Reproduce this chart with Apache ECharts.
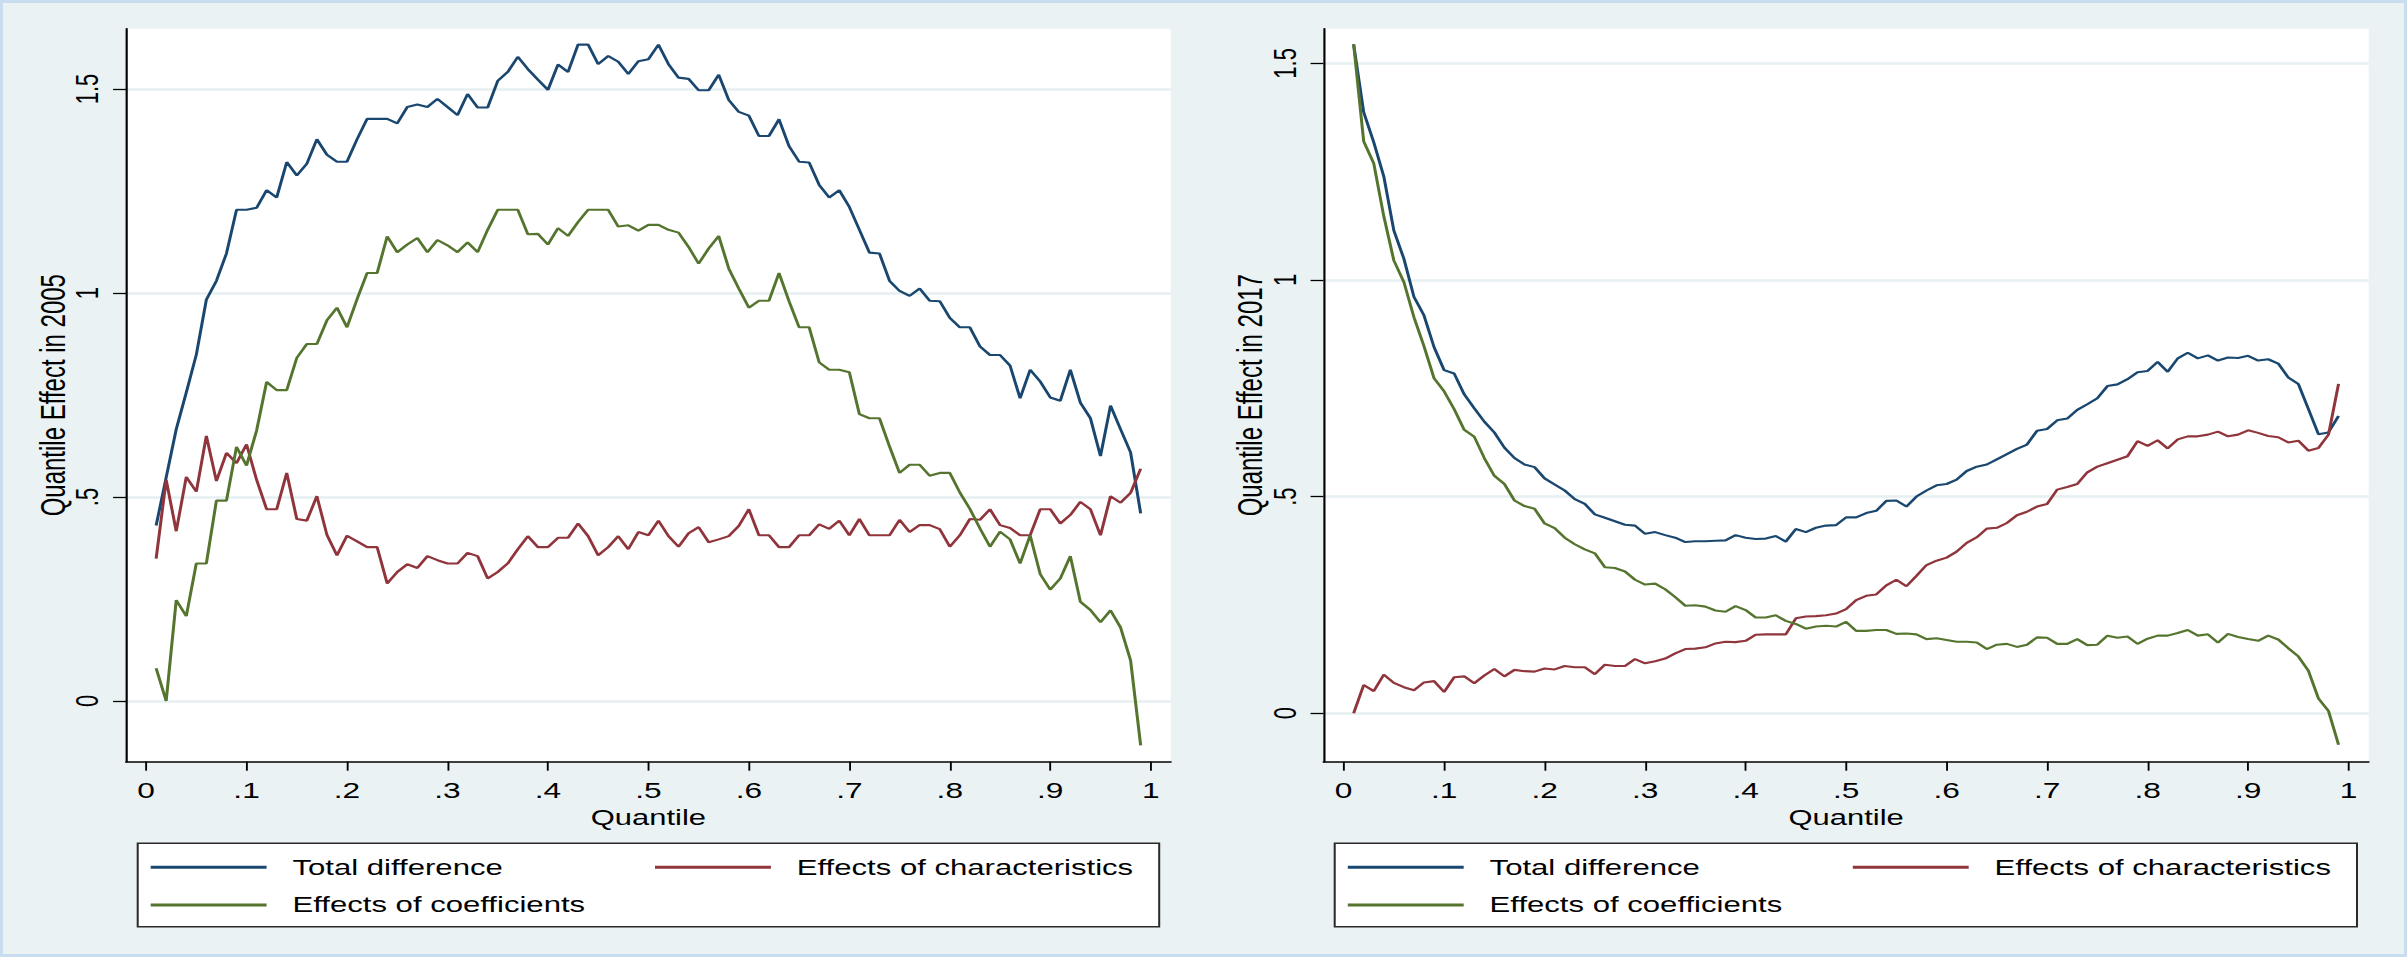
<!DOCTYPE html>
<html>
<head>
<meta charset="utf-8">
<script src="https://cdn.jsdelivr.net/npm/echarts@6.0.0/dist/echarts.min.js"></script>
<style>
html,body{margin:0;padding:0;width:2407px;height:957px;overflow:hidden;background:#EAF2F3;}
#chart{position:absolute;left:0;top:0;width:1672px;height:957px;transform:scaleX(1.4395933);transform-origin:0 0;}
#frame{position:absolute;left:0;top:0;width:2407px;height:957px;box-sizing:border-box;border:3px solid #C9DDF0;pointer-events:none;}
</style>
</head>
<body>
<div id="chart"></div>
<div id="frame"></div>
<script>
// ---------- data ----------
const quantiles = [0.01,0.02,0.03,0.04,0.05,0.06,0.07,0.08,0.09,0.10,
  0.11,0.12,0.13,0.14,0.15,0.16,0.17,0.18,0.19,0.20,
  0.21,0.22,0.23,0.24,0.25,0.26,0.27,0.28,0.29,0.30,
  0.31,0.32,0.33,0.34,0.35,0.36,0.37,0.38,0.39,0.40,
  0.41,0.42,0.43,0.44,0.45,0.46,0.47,0.48,0.49,0.50,
  0.51,0.52,0.53,0.54,0.55,0.56,0.57,0.58,0.59,0.60,
  0.61,0.62,0.63,0.64,0.65,0.66,0.67,0.68,0.69,0.70,
  0.71,0.72,0.73,0.74,0.75,0.76,0.77,0.78,0.79,0.80,
  0.81,0.82,0.83,0.84,0.85,0.86,0.87,0.88,0.89,0.90,
  0.91,0.92,0.93,0.94,0.95,0.96,0.97,0.98,0.99];

const total2005 = [0.430,0.548,0.666,0.756,0.849,0.984,1.030,1.097,1.204,1.204,
  1.209,1.252,1.234,1.321,1.288,1.317,1.377,1.339,1.322,1.322,
  1.377,1.427,1.427,1.427,1.416,1.456,1.462,1.456,1.476,1.456,
  1.436,1.488,1.455,1.455,1.520,1.542,1.579,1.549,1.523,1.498,
  1.560,1.542,1.609,1.609,1.561,1.581,1.567,1.537,1.568,1.573,
  1.609,1.561,1.528,1.525,1.497,1.497,1.535,1.473,1.444,1.435,
  1.385,1.385,1.426,1.360,1.322,1.320,1.265,1.234,1.252,1.211,
  1.155,1.099,1.097,1.030,1.005,0.993,1.011,0.981,0.980,0.939,
  0.916,0.916,0.869,0.848,0.848,0.822,0.742,0.812,0.783,0.744,
  0.736,0.812,0.731,0.693,0.600,0.724,0.666,0.609,0.460];

const charac2005 = [0.349,0.542,0.416,0.549,0.513,0.650,0.539,0.608,0.583,0.629,
  0.542,0.470,0.470,0.559,0.446,0.442,0.502,0.407,0.357,0.405,
  0.391,0.377,0.377,0.288,0.316,0.335,0.326,0.355,0.345,0.337,
  0.337,0.363,0.355,0.300,0.316,0.337,0.372,0.404,0.377,0.377,
  0.400,0.400,0.435,0.404,0.357,0.377,0.404,0.372,0.414,0.406,
  0.442,0.404,0.378,0.411,0.426,0.389,0.396,0.404,0.429,0.470,
  0.406,0.406,0.377,0.377,0.406,0.406,0.433,0.422,0.442,0.406,
  0.446,0.406,0.406,0.406,0.444,0.414,0.431,0.431,0.421,0.378,
  0.406,0.446,0.444,0.470,0.431,0.424,0.406,0.406,0.470,0.470,
  0.435,0.456,0.488,0.470,0.406,0.502,0.486,0.510,0.569];

const coef2005 = [0.080,0.000,0.247,0.208,0.337,0.337,0.491,0.491,0.623,0.577,
  0.663,0.782,0.762,0.762,0.841,0.875,0.875,0.933,0.964,0.916,
  0.985,1.049,1.049,1.139,1.100,1.119,1.135,1.100,1.130,1.117,
  1.100,1.124,1.100,1.155,1.204,1.204,1.204,1.144,1.145,1.119,
  1.159,1.140,1.174,1.204,1.204,1.204,1.163,1.166,1.153,1.167,
  1.167,1.155,1.148,1.113,1.072,1.109,1.140,1.060,1.011,0.964,
  0.981,0.981,1.049,0.980,0.916,0.916,0.830,0.812,0.812,0.806,
  0.703,0.693,0.693,0.624,0.559,0.579,0.579,0.552,0.559,0.559,
  0.511,0.471,0.423,0.378,0.415,0.396,0.337,0.406,0.311,0.273,
  0.300,0.355,0.243,0.223,0.193,0.222,0.180,0.099,-0.109];

const total2017 = [1.544,1.387,1.318,1.239,1.114,1.049,0.961,0.918,0.845,0.792,
  0.784,0.736,0.704,0.673,0.648,0.613,0.589,0.574,0.568,0.542,
  0.528,0.514,0.494,0.483,0.459,0.451,0.443,0.435,0.433,0.414,
  0.418,0.411,0.405,0.395,0.397,0.397,0.398,0.399,0.411,0.405,
  0.402,0.403,0.409,0.396,0.425,0.418,0.428,0.433,0.434,0.452,
  0.452,0.462,0.467,0.490,0.491,0.477,0.500,0.514,0.526,0.529,
  0.539,0.559,0.569,0.574,0.586,0.598,0.610,0.620,0.652,0.656,
  0.676,0.680,0.700,0.713,0.727,0.755,0.759,0.771,0.787,0.790,
  0.811,0.788,0.819,0.832,0.819,0.826,0.814,0.821,0.820,0.825,
  0.814,0.817,0.807,0.775,0.760,0.702,0.644,0.648,0.686];

const charac2017 = [0.000,0.065,0.051,0.089,0.070,0.060,0.053,0.071,0.074,0.049,
  0.083,0.085,0.069,0.087,0.102,0.085,0.100,0.097,0.096,0.103,
  0.101,0.109,0.106,0.106,0.090,0.112,0.109,0.109,0.125,0.115,
  0.120,0.126,0.138,0.148,0.149,0.152,0.161,0.165,0.164,0.167,
  0.181,0.182,0.182,0.182,0.219,0.223,0.224,0.226,0.230,0.240,
  0.261,0.271,0.274,0.295,0.308,0.293,0.317,0.342,0.352,0.359,
  0.373,0.393,0.406,0.426,0.428,0.439,0.457,0.465,0.477,0.483,
  0.516,0.522,0.529,0.556,0.569,0.577,0.585,0.593,0.628,0.617,
  0.630,0.611,0.632,0.639,0.639,0.643,0.650,0.639,0.643,0.653,
  0.647,0.640,0.637,0.625,0.629,0.606,0.612,0.643,0.760];

const coef2017 = [1.544,1.320,1.269,1.147,1.045,0.995,0.914,0.847,0.773,0.743,
  0.702,0.654,0.638,0.589,0.548,0.529,0.491,0.478,0.472,0.438,
  0.427,0.405,0.390,0.378,0.369,0.337,0.335,0.327,0.308,0.297,
  0.299,0.286,0.268,0.248,0.249,0.246,0.237,0.234,0.247,0.238,
  0.221,0.221,0.226,0.213,0.206,0.195,0.200,0.202,0.200,0.211,
  0.190,0.190,0.192,0.192,0.183,0.184,0.182,0.171,0.173,0.169,
  0.165,0.165,0.163,0.148,0.158,0.160,0.153,0.158,0.175,0.174,
  0.160,0.160,0.171,0.157,0.158,0.179,0.174,0.177,0.160,0.172,
  0.179,0.179,0.185,0.192,0.179,0.182,0.163,0.183,0.176,0.171,
  0.167,0.179,0.170,0.150,0.131,0.098,0.034,0.005,-0.073];

const xTickValues = [0,0.1,0.2,0.3,0.4,0.5,0.6,0.7,0.8,0.9,1];
const yTickValues = [0,0.5,1,1.5];
const seriesNames = ['Total difference','Effects of characteristics','Effects of coefficients'];
const yTitles = ['Quantile Effect in 2005','Quantile Effect in 2017'];
const xTitle = 'Quantile';

// ---------- layout / style ----------
const S = 2407 / 1672;            // horizontal stretch applied by CSS
const ux = v => v / S;             // reference px -> layout px
const FONT = "'Liberation Sans', Arial, Helvetica, sans-serif";
const colors = ['#1A476F', '#90353B', '#55752F'];
const fmt = v => {
  const s = String(Number(v.toFixed(2)));
  return s.replace(/^0\./, '.').replace(/^-0\./, '-.');
};

const panels = [
  {gridLeft: ux(126),    gridW: ux(1044.8), yMin: -0.149, yMax: 1.648, data: [total2005, charac2005, coef2005],
   legendBox: [ux(137.7), ux(1159.2)], col1: ux(150.7), col2: ux(655.0)},
  {gridLeft: ux(1323.5), gridW: ux(1045.2), yMin: -0.112, yMax: 1.580, data: [total2017, charac2017, coef2017],
   legendBox: [ux(1334.7), ux(2357.0)], col1: ux(1347.8), col2: ux(1852.8)}
];

const grids = [], xAxes = [], yAxes = [], series = [], legends = [], graphics = [];
panels.forEach((p, pi) => {
  grids.push({left: p.gridLeft, top: 28.7, width: p.gridW, height: 733,
    show: true, backgroundColor: '#FFFFFF', borderWidth: 0, outerBoundsMode: 'none', containLabel: false});
  xAxes.push({
    type: 'value', gridIndex: pi, min: -0.02, max: 1.02,
    name: xTitle, nameLocation: 'middle', nameGap: 42,
    nameTextStyle: {fontFamily: FONT, fontSize: 21.5, color: '#000'},
    axisLine: {show: true, onZero: false, lineStyle: {color: '#000', width: 1.5}},
    axisTick: {show: true, length: 9, customValues: xTickValues, lineStyle: {color: '#000', width: 1.3}},
    axisLabel: {show: true, customValues: xTickValues, formatter: fmt, margin: 18,
      fontFamily: FONT, fontSize: 22, color: '#000'},
    splitLine: {show: false}
  });
  yAxes.push({
    type: 'value', gridIndex: pi, min: p.yMin, max: p.yMax,
    name: yTitles[pi], nameLocation: 'middle', nameGap: 34, nameRotate: 90,
    nameTextStyle: {fontFamily: FONT, fontSize: 24, color: '#000'},
    axisLine: {show: true, onZero: false, lineStyle: {color: '#000', width: 1.5}},
    axisTick: {show: true, length: 9, customValues: yTickValues, lineStyle: {color: '#000', width: 1.3}},
    axisLabel: {show: true, customValues: yTickValues, formatter: fmt, rotate: 90, margin: 16,
      fontFamily: FONT, fontSize: 22, color: '#000'},
    splitLine: {show: true, lineStyle: {color: '#E6EFF1', width: 2.5}}
  });
  p.data.forEach((arr, si) => {
    series.push({
      type: 'line', name: seriesNames[si], xAxisIndex: pi, yAxisIndex: pi,
      data: quantiles.map((q, i) => [q, arr[i]]),
      symbol: 'none', showSymbol: false, smooth: false,
      color: colors[si],
      lineStyle: {color: colors[si], width: 2.1},
      itemStyle: {color: colors[si]},
      emphasis: {disabled: true}, silent: true, animation: false, z: 3 + si
    });
  });
  graphics.push({
    type: 'rect', z: 1,
    shape: {x: p.legendBox[0], y: 843.3, width: p.legendBox[1] - p.legendBox[0], height: 83.4},
    style: {fill: '#FFFFFF', stroke: '#2A2A2A', lineWidth: 1.4}
  });
  const pos = [[p.col1, 867.3], [p.col2, 867.3], [p.col1, 905.0]];
  seriesNames.forEach((nm, si) => {
    legends.push({
      data: [nm], left: pos[si][0], top: pos[si][1] - 12, padding: 0,
      orient: 'horizontal', icon: 'rect', itemWidth: 80.5, itemHeight: 3,
      selectedMode: false, z: 10,
      textStyle: {fontFamily: FONT, fontSize: 21.6, color: '#000', lineHeight: 24, padding: [0, 0, 0, 13]}
    });
  });
});

const chart = echarts.init(document.getElementById('chart'), null, {renderer: 'svg', width: 1672, height: 957});
chart.setOption({
  animation: false,
  backgroundColor: '#EAF2F3',
  grid: grids, xAxis: xAxes, yAxis: yAxes, series: series,
  legend: legends, graphic: graphics,
  tooltip: {show: false}
});
</script>
</body>
</html>
